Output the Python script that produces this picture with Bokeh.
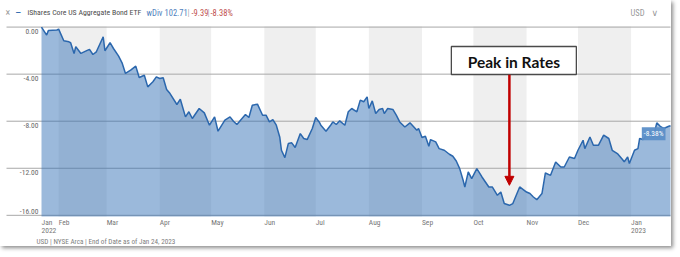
import pandas as pd
from bokeh.plotting import figure
from bokeh.models import Range1d, Label, Arrow, NormalHead
from bokeh.core.properties import value
from bokeh.embed import file_html
from bokeh.resources import INLINE

# ---------------- data ----------------
dates = [
    "2022-01-22", "2022-01-25", "2022-01-26", "2022-01-31", "2022-02-01", "2022-02-04",
    "2022-02-07", "2022-02-08", "2022-02-10", "2022-02-11", "2022-02-14", "2022-02-18",
    "2022-02-19", "2022-02-21", "2022-02-23", "2022-02-27", "2022-02-28", "2022-03-03",
    "2022-03-05", "2022-03-08", "2022-03-10", "2022-03-12", "2022-03-15", "2022-03-18",
    "2022-03-20", "2022-03-23", "2022-03-25", "2022-03-28", "2022-03-30", "2022-04-01",
    "2022-04-03", "2022-04-05", "2022-04-07", "2022-04-11", "2022-04-13", "2022-04-16",
    "2022-04-18", "2022-04-20", "2022-04-24", "2022-04-27", "2022-04-30", "2022-05-03",
    "2022-05-05", "2022-05-09", "2022-05-12", "2022-05-14", "2022-05-16", "2022-05-21",
    "2022-05-23", "2022-05-25", "2022-05-28", "2022-05-31", "2022-06-02", "2022-06-04",
    "2022-06-06", "2022-06-08", "2022-06-10", "2022-06-11", "2022-06-13", "2022-06-15",
    "2022-06-17", "2022-06-19", "2022-06-22", "2022-06-24", "2022-06-26", "2022-06-29",
    "2022-07-01", "2022-07-03", "2022-07-04", "2022-07-07", "2022-07-10", "2022-07-11",
    "2022-07-13", "2022-07-15", "2022-07-18", "2022-07-20", "2022-07-22", "2022-07-25",
    "2022-07-27", "2022-07-29", "2022-07-31", "2022-08-01", "2022-08-03", "2022-08-05",
    "2022-08-07", "2022-08-09", "2022-08-10", "2022-08-12", "2022-08-15", "2022-08-17",
    "2022-08-19", "2022-08-22", "2022-08-25", "2022-08-29", "2022-08-30", "2022-09-01",
    "2022-09-03", "2022-09-05", "2022-09-06", "2022-09-09", "2022-09-11", "2022-09-14",
    "2022-09-17", "2022-09-19", "2022-09-21", "2022-09-23", "2022-09-25", "2022-09-26",
    "2022-09-28", "2022-09-30", "2022-10-03", "2022-10-06", "2022-10-10", "2022-10-12",
    "2022-10-15", "2022-10-17", "2022-10-19", "2022-10-22", "2022-10-24", "2022-10-28",
    "2022-11-01", "2022-11-03", "2022-11-05", "2022-11-07", "2022-11-10", "2022-11-12",
    "2022-11-15", "2022-11-18", "2022-11-21", "2022-11-23", "2022-11-26", "2022-11-29",
    "2022-12-01", "2022-12-04", "2022-12-05", "2022-12-08", "2022-12-10", "2022-12-13",
    "2022-12-16", "2022-12-19", "2022-12-21", "2022-12-24", "2022-12-27", "2022-12-28",
    "2022-12-30", "2022-12-31", "2023-01-03", "2023-01-05", "2023-01-06", "2023-01-08",
    "2023-01-10", "2023-01-12", "2023-01-14", "2023-01-16", "2023-01-18", "2023-01-20",
    "2023-01-23", "2023-01-24",
]
pct_change = [
    0.00, -0.68, -0.30, -0.25, -0.17, -1.16,
    -1.25, -1.33, -2.24, -1.67, -2.24, -1.96,
    -1.90, -2.33, -2.10, -0.82, -2.01, -1.33,
    -1.82, -2.47, -3.04, -3.94, -3.66, -3.32,
    -4.28, -4.09, -5.08, -4.65, -4.23, -4.37,
    -4.31, -5.30, -5.65, -6.58, -6.13, -7.63,
    -7.20, -7.77, -6.92, -7.29, -8.34, -7.63,
    -8.85, -7.91, -7.63, -8.00, -8.28, -7.43,
    -7.69, -6.64, -6.55, -7.49, -7.49, -8.06,
    -7.86, -8.34, -9.34, -10.47, -11.09, -9.90,
    -9.84, -10.24, -9.05, -9.47, -9.56, -8.62,
    -7.69, -8.06, -8.34, -8.85, -8.28, -8.06,
    -8.28, -7.97, -8.34, -7.20, -6.92, -7.20,
    -6.21, -6.35, -5.93, -6.92, -6.27, -7.35,
    -7.00, -6.92, -7.35, -6.92, -7.00, -7.49,
    -8.06, -8.49, -8.14, -8.77, -8.62, -9.39,
    -9.28, -10.13, -9.56, -9.76, -10.33, -10.47,
    -10.81, -10.98, -11.38, -12.03, -13.02, -13.59,
    -12.31, -12.88, -12.03, -12.74, -13.59, -13.59,
    -14.30, -14.02, -15.00, -15.15, -15.00, -13.59,
    -14.02, -14.15, -14.44, -14.67, -14.15, -12.40,
    -12.60, -11.46, -11.89, -11.89, -11.04, -11.17,
    -10.47, -9.62, -10.33, -9.34, -10.04, -10.04,
    -9.19, -9.47, -10.47, -10.75, -11.26, -11.46,
    -11.04, -11.60, -10.47, -10.33, -9.47, -9.56,
    -9.19, -8.91, -9.34, -8.14, -8.43, -8.62,
    -8.43, -8.38,
]

x_tick_dates = ["2022-01-22", "2022-02-01", "2022-03-01", "2022-04-01", "2022-05-01",
                "2022-06-01", "2022-07-01", "2022-08-01", "2022-09-01", "2022-10-01",
                "2022-11-01", "2022-12-01", "2023-01-01"]
x_tick_labels = ["Jan\n2022", "Feb", "Mar", "Apr", "May", "Jun", "Jul", "Aug", "Sep",
                 "Oct", "Nov", "Dec", "Jan\n2023"]
y_ticks = [0, -4, -8, -12, -16]
y_tick_labels = ["0.00", "-4.00", "-8.00", "-12.00", "-16.00"]
shaded_months = ["2022-02", "2022-04", "2022-06", "2022-08", "2022-10", "2022-12"]

fund_name = "iShares Core US Aggregate Bond ETF"
div_flag = "wDiv"
last_price = "102.71"
change_abs = "-9.39"
change_pct = "-8.38%"
currency = "USD"
footer_text = "USD | NYSE Arca | End of Date as of Jan 24, 2023"
annotation_text = "Peak in Rates"
peak_date = "2022-10-22"

# ---------------- layout: the frame covers the whole canvas ----------------
FONT = "Roboto Condensed, Liberation Sans Narrow, Roboto"
W, H = 671, 246
# plotting region in canvas pixels and the data values at its edges
PL, PR, PT, PB = 41, 670, 26, 216
D0, D1 = pd.Timestamp("2022-01-22"), pd.Timestamp("2023-01-24")
V_TOP, V_BOT = 0.05, -16.1
GRID_LEFT = 6


def ms(d):
    return int(pd.Timestamp(d).value // 10**6)


def cx_to_x(cx):
    return ms(D0) + (cx - PL) / (PR - PL) * (ms(D1) - ms(D0))


def cy_to_y(cy):
    return V_TOP - (cy - PT) / (PB - PT) * (V_TOP - V_BOT)


x = pd.to_datetime(dates)

p = figure(width=W, height=H, x_axis_type="datetime",
           x_range=Range1d(cx_to_x(0), cx_to_x(W)),
           y_range=Range1d(cy_to_y(H), cy_to_y(0)),
           output_backend="svg", toolbar_location=None, title=None,
           y_axis_location=None, x_axis_location=None, min_border=0,
           outline_line_color=None, background_fill_color="white",
           border_fill_color="white")
p.styles = {"box-shadow": "2px 2px 4px rgba(0,0,0,0.45)"}
p.xgrid.grid_line_color = None
p.ygrid.grid_line_color = None

# alternating month bands
band_left = [pd.Timestamp(m + "-01") for m in shaded_months]
band_right = [b + pd.offsets.MonthBegin(1) for b in band_left]
p.quad(left=band_left, right=band_right, bottom=V_BOT, top=V_TOP,
       fill_color="#efefef", line_color=None)

# horizontal grid lines (span the label column too)
p.segment(x0=[cx_to_x(GRID_LEFT)] * len(y_ticks), x1=[ms(D1)] * len(y_ticks),
          y0=y_ticks, y1=y_ticks, line_color="#a8a8a8", line_width=1)

# area + line
p.varea(x=x, y1=V_BOT, y2=pct_change, fill_color="#2e6db4", fill_alpha=0.48)
p.line(x, pct_change, line_color="#2b67ad", line_width=1.5)

# y tick labels (below their grid lines, last one above)
p.text(x=[D0] * 4, y=y_ticks[:4], text=y_tick_labels[:4],
       text_align="right", text_baseline="top", x_offset=-3, y_offset=2,
       text_font=value(FONT), text_font_size="7.5px", text_color="#666666")
p.text(x=[D0], y=y_ticks[4:], text=y_tick_labels[4:],
       text_align="right", text_baseline="bottom", x_offset=-3, y_offset=-1,
       text_font=value(FONT), text_font_size="7.5px", text_color="#666666")

# x tick labels, left-aligned at each month start, below the plotting region
p.text(x=pd.to_datetime(x_tick_dates), y=[V_BOT] * len(x_tick_dates), text=x_tick_labels,
       text_align="left", text_baseline="top", y_offset=1, text_line_height=0.95,
       text_font=value(FONT), text_font_size="7.5px", text_color="#777777")

# annotation: box + text + arrow
box_date = pd.Timestamp(peak_date) + pd.Timedelta(days=2.6)
p.rect(x=[box_date], y=[-2.84], width=125, height=28, width_units="screen",
       height_units="screen", fill_color="white", line_color="#4a4a4a", line_width=1.3)
p.text(x=[box_date], y=[-2.84], text=[annotation_text], text_align="center",
       text_baseline="middle", y_offset=1, text_font=value("Lato"),
       text_font_style="bold", text_font_size="15.5px", text_color="#111111")
p.add_layout(Arrow(end=NormalHead(size=9, fill_color="#c00000", line_color="#c00000"),
                   x_start=ms(peak_date), y_start=-4.05, x_end=ms(peak_date), y_end=-13.45,
                   line_color="#c00000", line_width=2.5))

# last value tag
p.add_layout(Label(x=ms(dates[-1]), y=pct_change[-1], text=change_pct,
                   text_align="right", text_baseline="middle", x_offset=-5, y_offset=-8,
                   text_font=FONT, text_font_size="7.5px", text_color="white",
                   background_fill_color="#5b8ec8", background_fill_alpha=0.95, padding=2))

# header / footer texts (canvas pixel positions converted to data)
header = [
    (5, 12, "\u00d7", "#999999", "10px", FONT, "normal"),
    (15, 12, "\u2014", "#2b67ad", "8px", FONT, "bold"),
    (27, 12, fund_name, "#4d4d4d", "7.8px", FONT, "normal"),
    (146, 12, div_flag, "#4f81bd", "8.5px", FONT, "normal"),
    (164, 12, last_price, "#4f81bd", "8.5px", FONT, "normal"),
    (187, 12, "|", "#aaaaaa", "8.5px", FONT, "normal"),
    (191, 12, change_abs, "#c0504d", "8.5px", FONT, "normal"),
    (207, 12, "|", "#aaaaaa", "8.5px", FONT, "normal"),
    (210, 12, change_pct, "#c0504d", "8.5px", FONT, "normal"),
    (630, 12, currency, "#999999", "8.5px", FONT, "normal"),
    (651, 12, "\u2228", "#999999", "9px", "DejaVu Sans", "normal"),
    (36, 241, footer_text, "#808080", "7.2px", FONT, "normal"),
]
for cx, cy, t, c, s, f, st in header:
    p.add_layout(Label(x=cx_to_x(cx), y=cy_to_y(cy), text=t, text_color=c, text_font=f,
                       text_font_size=s, text_font_style=st,
                       text_baseline="middle", text_align="left"))

open("out.html", "w").write(file_html(p, INLINE))
